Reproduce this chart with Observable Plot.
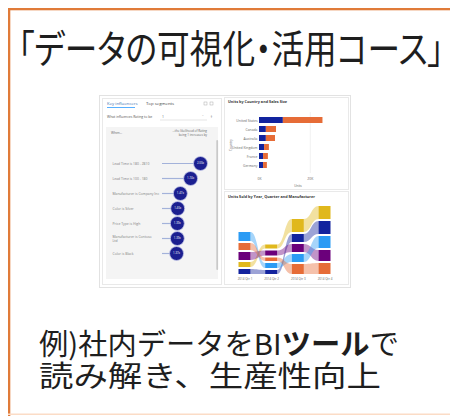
<!DOCTYPE html>
<html><head><meta charset="utf-8">
<script src="https://cdn.jsdelivr.net/npm/d3@7"></script>
<script src="https://cdn.jsdelivr.net/npm/@observablehq/plot@0.6"></script>
<style>
html,body{margin:0;padding:0;background:#fff;}
#root{position:relative;width:450px;height:417px;overflow:hidden;}
.layer{position:absolute;left:0;top:0;}
.plot{position:absolute;}
</style></head><body><div id="root"></div>
<script>
// ---------- text ----------
const titleText = "「データの可視化・活用コース」";
const bodyLine1Parts = ["例)社内データをBI", "ツール", "で"];
const bodyLine2 = "読み解き、生産性向上";

// ---------- key influencers ----------
const influencerFactors = ["Lead Time is 180 - 2810", "Lead Time is 100 - 180", "Manufacturer is Company Inc", "Color is Silver", "Price Type is High", "Manufacturer is Contoso\nLtd", "Color is Black"];
const influencerValues = [2.00, 1.74, 1.47, 1.40, 1.39, 1.39, 1.37];
const influencerBaseline = 1;

// ---------- units by country and sales size ----------
const countries = ["United States", "Canada", "Australia", "United Kingdom", "France", "Germany"];
const salesSizes = ["Small", "Large"];
const unitsSmall = [9400, 2700, 2700, 2000, 1600, 1600];
const unitsLarge = [15600, 4000, 3600, 1900, 1900, 1500];
const unitTicks = [0, 20000];

// ---------- units sold by quarter and manufacturer (thousands) ----------
const quarters = ["2014 Qtr 1", "2014 Qtr 2", "2014 Qtr 3", "2014 Qtr 4"];
const manufacturers = ["VanArsdel", "Pirum", "Natura", "Aliqui", "Currus"];
const manufacturerColors = ["#E0B81C", "#12239E", "#6B007B", "#2B9BF4", "#E66C37"];
const vanArsdelUnits = [5.0, 4.0, 13.0, 13.0];
const pirumUnits = [5.0, 4.0, 8.0, 13.0];
const naturaUnits = [8.0, 5.0, 8.0, 11.0];
const aliquiUnits = [9.0, 5.0, 8.0, 12.0];
const currusUnits = [7.0, 3.5, 10.0, 11.0];
// top-to-bottom order of each quarter's column
const ribbonOrder = [
  ["Aliqui", "Currus", "Natura", "VanArsdel", "Pirum"],
  ["VanArsdel", "Natura", "Currus", "Aliqui", "Pirum"],
  ["VanArsdel", "Pirum", "Natura", "Aliqui", "Currus"],
  ["VanArsdel", "Pirum", "Aliqui", "Natura", "Currus"]
];

const root = document.getElementById("root");
const NS = "http://www.w3.org/2000/svg";
const font = "'Open Sans','DejaVu Sans',sans-serif";
const jp = "'Noto Sans CJK JP','Noto Sans',sans-serif";

// ---------- background layer: slide frame, texts, dashboard panels ----------
const bg = document.createElementNS(NS, "svg");
bg.setAttribute("class", "layer");
bg.setAttribute("width", 450); bg.setAttribute("height", 417);
root.appendChild(bg);
function el(tag, attrs, text, parent) {
  const e = document.createElementNS(NS, tag);
  for (const k in attrs) e.setAttribute(k, attrs[k]);
  if (text != null) e.textContent = text;
  (parent || bg).appendChild(e);
  return e;
}
el("rect", {x:0, y:0, width:450, height:417, fill:"#fff"});
el("rect", {x:8, y:8, width:442, height:2.3, fill:"#E07B39"});
el("rect", {x:8, y:8, width:2.3, height:408, fill:"#E07B39"});
el("rect", {x:8, y:413.5, width:442, height:1.5, fill:"#FBDCC6"});

// a line of big text made of parts, squeezed horizontally to fit [x0, x1]
function fitLine(parts, x0, x1, baseline, size, extra) {
  const g = el("g", {});
  let cx = 0;
  parts.forEach(p => {
    const t = el("text", Object.assign({x: cx, y: 0, "font-size": size, fill: "#1e1e1e", "font-family": jp}, extra || {}, p.attrs || {}), p.text, g);
    cx += t.getComputedTextLength();
  });
  g.setAttribute("transform", `translate(${x0},${baseline}) scale(${(x1 - x0) / cx},1)`);
}
fitLine([{text: titleText}], 18, 444, 63, 39, {style: "font-feature-settings:'palt'"});
fitLine(bodyLine1Parts.map((t, i) => ({text: t, attrs: i === 1 ? {"font-weight": 700} : {}})), 39, 399, 355, 29);
fitLine([{text: bodyLine2}], 39, 381, 387, 29);

// dashboard panels
el("rect", {x:99.5, y:95.5, width:251, height:192, fill:"#fff", stroke:"#e2e2e2"});
el("rect", {x:102.5, y:98.5, width:119, height:186, fill:"#fff", stroke:"#e9e9e9"});
el("rect", {x:224.5, y:97.5, width:124, height:92, fill:"#fff", stroke:"#e9e9e9"});
el("rect", {x:224.5, y:191.5, width:124, height:93, fill:"#fff", stroke:"#e9e9e9"});
el("rect", {x:106, y:127, width:112, height:152, fill:"#f4f4f4"});
el("rect", {x:216.3, y:140, width:1.8, height:130, fill:"#c9c9c9", rx:0.9});

// key influencer header
el("text", {x:107, y:105, "font-size":4.3, fill:"#3d6fae", "font-family":font}, "Key influencers");
el("rect", {x:107, y:107, width:28, height:0.7, fill:"#118DFF"});
el("text", {x:146, y:105, "font-size":4.3, fill:"#444", "font-family":font}, "Top segments");
el("rect", {x:204, y:102, width:3, height:3, fill:"none", stroke:"#999", "stroke-width":0.4});
el("rect", {x:210, y:102, width:3, height:3, fill:"none", stroke:"#999", "stroke-width":0.4});
el("text", {x:107, y:118, "font-size":3.4, fill:"#555", "font-family":font}, "What influences Rating to be");
el("text", {x:162, y:118, "font-size":3.4, fill:"#555", "font-family":font}, "1");
el("line", {x1:160, x2:207, y1:120, y2:120, stroke:"#bbb", "stroke-width":0.4});
el("text", {x:202, y:118, "font-size":3.4, fill:"#777", "font-family":font}, "˅");
el("text", {x:210, y:118, "font-size":3.4, fill:"#777", "font-family":font}, "↑");
el("text", {x:111, y:134, "font-size":3.2, fill:"#666", "font-family":font}, "When...");
el("text", {x:207, y:132, "font-size":3.0, fill:"#666", "font-family":font, "text-anchor":"end"}, "...the likelihood of Rating");
el("text", {x:207, y:136, "font-size":3.0, fill:"#666", "font-family":font, "text-anchor":"end"}, "being 1 increases by");

// visual titles and axis titles
el("text", {x:228, y:103, "font-size":3.8, "font-weight":700, fill:"#333", "font-family":font}, "Units by Country and Sales Size");
el("text", {x:228, y:198, "font-size":3.8, "font-weight":700, fill:"#333", "font-family":font}, "Units Sold by Year, Quarter and Manufacturer");
el("text", {x:0, y:0, "font-size":3.2, fill:"#666", "font-family":font, "text-anchor":"middle", transform:"translate(232,145) rotate(-90)"}, "Country");
el("text", {x:298, y:187, "font-size":3.2, fill:"#666", "font-family":font, "text-anchor":"middle"}, "Units");

function place(node, left, top) {
  const d = document.createElement("div");
  d.className = "plot";
  d.style.left = left + "px"; d.style.top = top + "px";
  d.appendChild(node);
  root.appendChild(d);
}

// ---------- key influencers plot ----------
const infl = influencerFactors.map((f, i) => ({factor: f, value: influencerValues[i]}));
place(Plot.plot({
  width: 112, height: 150, margin: 0,
  style: {background: "transparent", fontFamily: font, overflow: "visible"},
  x: {domain: [1, 2], range: [56, 94], axis: null},
  y: {type: "point", domain: influencerFactors, range: [24, 135], axis: null},
  marks: [
    Plot.ruleY(infl, {y: "factor", x1: () => influencerBaseline, x2: "value", stroke: "#a3b2da", strokeWidth: 1.2}),
    Plot.dot(infl, {x: "value", y: "factor", r: 7, fill: "#1b1f90", stroke: "#c9cdeb", strokeWidth: 0.8}),
    Plot.text(infl, {x: "value", y: "factor", text: d => d.value.toFixed(2) + "x", fill: "white", fontSize: 2.8}),
    Plot.text(infl, {y: "factor", text: "factor", frameAnchor: "left", dx: 6, textAnchor: "start", fill: "#808080", fontSize: 3.4, lineHeight: 1.3})
  ]
}), 106, 128);

// ---------- units by country bar chart ----------
const barData = countries.flatMap((c, i) => [
  {country: c, size: salesSizes[0], units: unitsSmall[i]},
  {country: c, size: salesSizes[1], units: unitsLarge[i]}
]);
place(Plot.plot({
  width: 123, height: 92, marginLeft: 34, marginRight: 23, marginTop: 14, marginBottom: 17,
  style: {background: "transparent", fontFamily: font, fontSize: "3.4px", color: "#666", overflow: "visible"},
  x: {domain: [0, 26000]},
  y: {domain: countries, padding: 0.3},
  color: {domain: salesSizes, range: ["#12239E", "#E66C37"]},
  marks: [
    Plot.ruleX(unitTicks.slice(1), {stroke: "#e6e6e6", strokeWidth: 0.6}),
    Plot.barX(barData, {x: "units", y: "country", fill: "size"}),
    Plot.axisX({ticks: unitTicks, tickFormat: d => `${d / 1000}K`, tickSize: 0, tickPadding: 4, label: null}),
    Plot.axisY({tickSize: 0, tickPadding: 2, label: null})
  ]
}), 225, 98);

// ---------- ribbon chart ----------
const unitsByManufacturer = {VanArsdel: vanArsdelUnits, Pirum: pirumUnits, Natura: naturaUnits, Aliqui: aliquiUnits, Currus: currusUnits};
const gap = 2, halfWidth = 0.225;
const segments = [];
quarters.forEach((q, qi) => {
  let base = 0;
  for (const m of ribbonOrder[qi].slice().reverse()) {
    const v = unitsByManufacturer[m][qi];
    segments.push({qi, m, y1: base, y2: base + v});
    base += v + gap;
  }
});
const ribbons = [];
for (let qi = 0; qi < quarters.length - 1; qi++) {
  for (const m of manufacturers) {
    const a = segments.find(s => s.qi === qi && s.m === m);
    const b = segments.find(s => s.qi === qi + 1 && s.m === m);
    ribbons.push({key: m + qi, m, x: qi + halfWidth, y1: a.y1, y2: a.y2});
    ribbons.push({key: m + qi, m, x: qi + 1 - halfWidth, y1: b.y1, y2: b.y2});
  }
}
place(Plot.plot({
  width: 123, height: 95, marginLeft: 19.5, marginRight: 23.5, marginTop: 13, marginBottom: 13,
  style: {background: "transparent", fontFamily: font, fontSize: "3px", color: "#666", overflow: "visible"},
  x: {domain: [0, 3]},
  y: {domain: [0, 69], axis: null},
  color: {domain: manufacturers, range: manufacturerColors},
  marks: [
    Plot.areaY(ribbons, {x: "x", y1: "y1", y2: "y2", z: "key", fill: "m", fillOpacity: 0.42, curve: "bump-x"}),
    Plot.rect(segments, {x1: d => d.qi - halfWidth, x2: d => d.qi + halfWidth, y1: "y1", y2: "y2", fill: "m"}),
    Plot.axisX({ticks: [0, 1, 2, 3], tickFormat: i => quarters[i], tickSize: 0, tickPadding: 3, label: null})
  ]
}), 225, 192);
</script></body></html>
